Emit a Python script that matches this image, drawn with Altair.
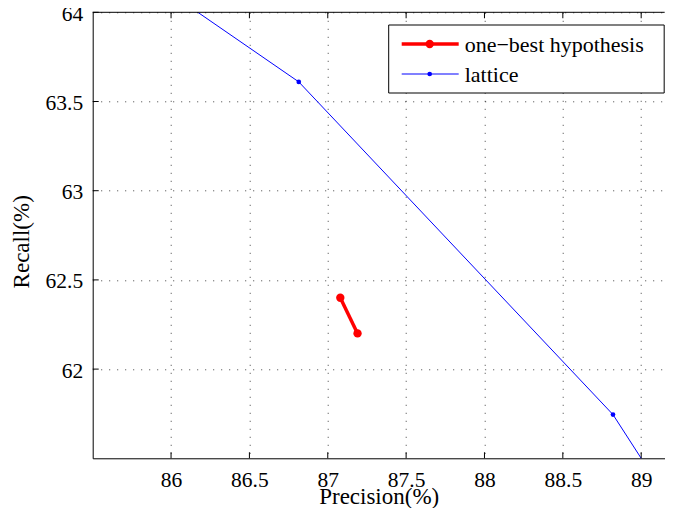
import altair as alt
import pandas as pd

# ---- data ----
x_ticks = [86, 86.5, 87, 87.5, 88, 88.5, 89]
y_ticks = [62, 62.5, 63, 63.5, 64]

series_names = ["one\u2212best hypothesis", "lattice"]
series_colors = ["#ff0000", "#0000ff"]

onebest_precision = [87.08, 87.19]
onebest_recall = [62.40, 62.20]

# first and last lattice points lie outside the visible window (clipped)
lattice_precision = [85.90, 86.815, 88.82, 89.10]
lattice_recall = [64.164, 63.61, 61.745, 61.364]

X_DOMAIN = [85.5, 89.15]
Y_DOMAIN = [61.5, 64.0]
W, H = 572, 446
FONT = "Liberation Serif, Times New Roman, Times, DejaVu Serif, serif"
TICK_FS = 21.5
TITLE_FS = 23
LEG_FS = 22

onebest = pd.DataFrame({"precision": onebest_precision, "recall": onebest_recall})
lattice = pd.DataFrame({"precision": lattice_precision, "recall": lattice_recall})
xt = pd.DataFrame({"t": x_ticks})
yt = pd.DataFrame({"t": y_ticks})
one = pd.DataFrame({"a": [0]})

xs = alt.Scale(domain=X_DOMAIN, nice=False, zero=False)
ys = alt.Scale(domain=Y_DOMAIN, nice=False, zero=False)

x_axis = alt.Axis(
    values=x_ticks, grid=True, gridDash=[1, 7], gridColor="#000000", gridOpacity=0.75,
    ticks=False, tickSize=0, domainColor="#000000", domainWidth=1,
    labelFont=FONT, labelFontSize=TICK_FS, labelColor="#000000", format=".1~f",
    labelBaseline="alphabetic", labelPadding=28.7, labelFlush=False,
    title="Precision(%)", titleFont=FONT, titleFontSize=TITLE_FS,
    titleFontWeight="normal", titleColor="#000000",
    titleBaseline="alphabetic", titleY=45,
)
y_axis = alt.Axis(
    values=y_ticks, grid=True, gridDash=[1, 7], gridColor="#000000", gridOpacity=0.75,
    ticks=False, tickSize=0, domainColor="#000000", domainWidth=1,
    labelFont=FONT, labelFontSize=TICK_FS, labelColor="#000000",
    labelPadding=10, labelFlush=False, labelOffset=2, format=".1~f",
    title="Recall(%)", titleFont=FONT, titleFontSize=TITLE_FS,
    titleFontWeight="normal", titleColor="#000000",
    titleBaseline="alphabetic", titleX=-64, titleY=H / 2 + 6,
)

lattice_line = alt.Chart(lattice).mark_line(
    color=series_colors[1], strokeWidth=1, clip=True
).encode(
    x=alt.X("precision:Q", scale=xs, axis=x_axis),
    y=alt.Y("recall:Q", scale=ys, axis=y_axis),
)
lattice_pts = alt.Chart(lattice).mark_point(
    filled=True, color=series_colors[1], size=22, opacity=1, clip=True
).encode(x="precision:Q", y="recall:Q")

onebest_line = alt.Chart(onebest).mark_line(
    color=series_colors[0], strokeWidth=3.5, clip=True
).encode(x="precision:Q", y="recall:Q")
onebest_pts = alt.Chart(onebest).mark_point(
    filled=True, color=series_colors[0], size=70, opacity=1, clip=True
).encode(x="precision:Q", y="recall:Q")

# frame pieces and inward ticks
top_border = alt.Chart(one).mark_rule(color="#000000", strokeWidth=1).encode(
    x=alt.value(0), x2=alt.value(W), y=alt.value(0)
)
tick_style = dict(color="#000000", thickness=1, size=6, opacity=1)
bottom_ticks = alt.Chart(xt).mark_tick(orient="vertical", **tick_style).encode(
    x=alt.X("t:Q"), y=alt.value(H - 3)
)
top_ticks = alt.Chart(xt).mark_tick(orient="vertical", **tick_style).encode(
    x=alt.X("t:Q"), y=alt.value(3)
)
left_ticks = alt.Chart(yt).mark_tick(orient="horizontal", **tick_style).encode(
    y=alt.Y("t:Q"), x=alt.value(3)
)

# legend (drawn by hand to match the boxed MATLAB legend)
leg_box = alt.Chart(one).mark_rect(fill="#ffffff", stroke="#000000", strokeWidth=1).encode(
    x=alt.value(296), x2=alt.value(571.5), y=alt.value(12.7), y2=alt.value(80.7)
)
leg_layers = [leg_box]
leg_rows = [31.7, 61.7]
leg_lw = [3.5, 1]
leg_sz = [70, 22]
for name, col, ry, lw, sz in zip(series_names, series_colors, leg_rows, leg_lw, leg_sz):
    leg_layers.append(alt.Chart(one).mark_rule(color=col, strokeWidth=lw).encode(
        x=alt.value(309), x2=alt.value(366), y=alt.value(ry)))
    leg_layers.append(alt.Chart(one).mark_point(filled=True, color=col, size=sz, opacity=1).encode(
        x=alt.value(337), y=alt.value(ry)))
    leg_layers.append(alt.Chart(one).mark_text(
        text=name, align="left", baseline="middle", font=FONT, fontSize=LEG_FS, color="#000000"
    ).encode(x=alt.value(372), y=alt.value(ry + 1)))

chart = alt.layer(
    lattice_line, lattice_pts, onebest_line, onebest_pts,
    top_border, bottom_ticks, top_ticks, left_ticks,
    *leg_layers,
).properties(
    width=W, height=H,
    padding={"left": 84.7, "top": 4.3, "right": 0, "bottom": 49.5},
    autosize=alt.AutoSizeParams(type="none"),
    background="#ffffff",
).configure_view(stroke=None)

chart.save("out.html", embed_options={"renderer": "svg", "actions": False})
